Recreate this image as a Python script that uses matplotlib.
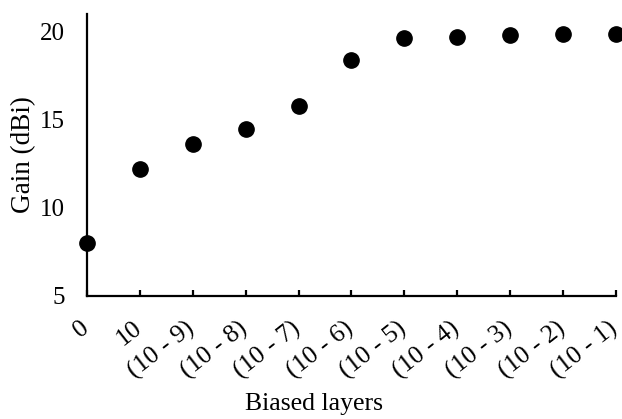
import matplotlib
matplotlib.use("Agg")
from matplotlib import pyplot as plt

# %% data
layer_labels = ['0', '10', '(10 - 9)', '(10 - 8)', '(10 - 7)', '(10 - 6)',
                '(10 - 5)', '(10 - 4)', '(10 - 3)', '(10 - 2)', '(10 - 1)']
gain_dbi = [8.0, 12.2, 13.6, 14.5, 15.8, 18.4, 19.65, 19.7, 19.8, 19.85, 19.85]
y_ticks = [5, 10, 15, 20]

plt.rcParams['font.family'] = ['Liberation Serif', 'DejaVu Serif']

# %% plot
fig = plt.figure(figsize=(6.22, 4.19), dpi=100)
ax = fig.add_axes([0.14, 0.2936, 0.85, 0.673])
x = list(range(len(layer_labels)))
ax.plot(x, gain_dbi, linestyle='none', marker='o', markersize=11,
        color='black', clip_on=False, zorder=3)

ax.set_xlim(0, len(layer_labels) - 1)
ax.set_ylim(5, 21)
ax.set_yticks(y_ticks)
ax.set_xticks(x)
ax.set_xticklabels([])
# slanted category labels, placed a bit left of each tick like the original
for xi, lab in zip(x, layer_labels):
    ax.annotate(lab, xy=(xi, 0), xycoords=ax.get_xaxis_transform(),
                xytext=(-5.5, -15), textcoords='offset points',
                rotation=38, ha='right', va='top', rotation_mode='anchor',
                fontsize=18.5, annotation_clip=False)

for side in ['top', 'right']:
    ax.spines[side].set_visible(False)
for side in ['left', 'bottom']:
    ax.spines[side].set_linewidth(1.6)

ax.tick_params(axis='y', length=0, pad=16, labelsize=18)
ax.tick_params(axis='x', direction='in', length=4.5, width=1.6)

ax.set_ylabel('Gain (dBi)', fontsize=19.5, labelpad=3)
ax.set_xlabel('Biased layers', fontsize=18.5)
ax.xaxis.set_label_coords(0.43, -0.345)

fig.savefig('out.png', dpi=100)
